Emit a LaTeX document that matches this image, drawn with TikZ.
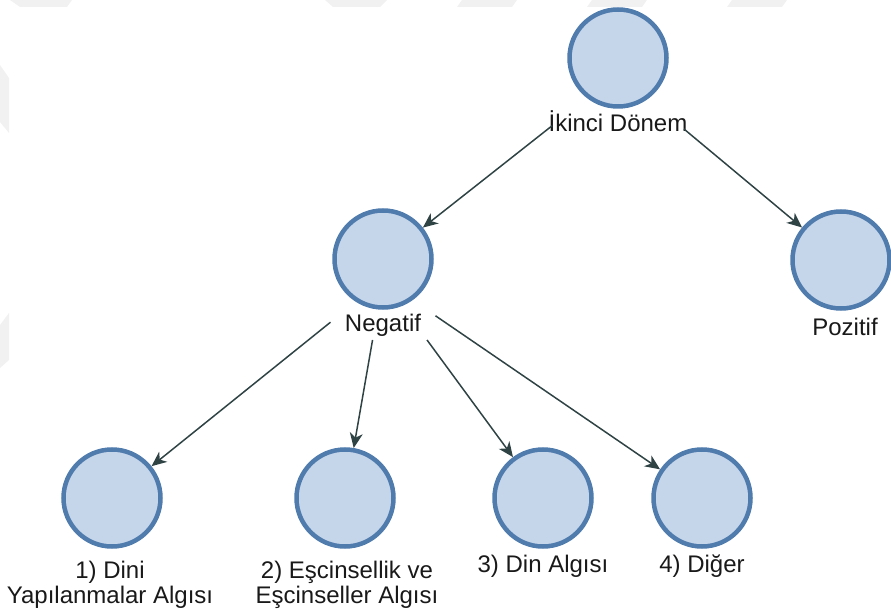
\documentclass[tikz,border=0pt]{standalone}
\usepackage{fontspec}
\setmainfont{Liberation Sans}
\usetikzlibrary{arrows.meta}
\definecolor{cfill}{HTML}{C6D6EA}
\definecolor{cedge}{HTML}{4F7BAD}
\definecolor{carrow}{HTML}{2F4345}
\definecolor{wm}{HTML}{F1F1F1}
\begin{document}
\begin{tikzpicture}[x=1pt,y=-1pt,
  circ/.style={circle, draw=cedge, fill=cfill, line width=4.5pt, minimum size=97pt, inner sep=0pt},
  lbl/.style={font=\fontsize{24}{25}\selectfont, text=black!90, inner sep=0pt, align=center},
  hub/.style={rectangle, inner sep=0pt, outer sep=0pt},
  arr/.style={draw=carrow, line width=1.5pt, -{Stealth[length=15pt,width=13pt,inset=4.5pt]}}]
\useasboundingbox (0,0) rectangle (891,609);
% faint watermark shapes
\fill[wm] (10,0) -- (72,0) -- (67,7) -- (20,7) -- cycle;
\fill[wm] (325,0) -- (387,0) -- (380,7) -- (333,7) -- cycle;
\fill[wm] (462,0) -- (517,0) -- (512,7) -- (457,7) -- cycle;
\fill[wm] (592,0) -- (647,0) -- (642,7) -- (587,7) -- cycle;
\fill[wm] (732,0) -- (787,0) -- (782,7) -- (727,7) -- cycle;
\fill[wm] (0,65) -- (9,78) -- (9,133) -- (0,122) -- cycle;
\fill[wm] (0,325) -- (9,313) -- (9,360) -- (0,368) -- cycle;
% nodes
\node[circ] (c0) at (618,58) {};
\node[lbl, anchor=base] (t0) at (618,132) {İkinci Dönem};
\node[hub, minimum width=132pt, minimum height=120pt] (h0) at (618,74) {};
\node[circ] (c1) at (383,259) {};
\node[lbl, anchor=base] (t1) at (383,331) {Negatif};
\node[hub, minimum width=105pt, minimum height=120pt] (h1) at (383,280) {};
\node[circ] (c2) at (841,260) {};
\node[lbl, anchor=base] (t2) at (845,335) {Pozitif};
\node[circ] (c3) at (112,498) {};
\node[lbl, anchor=north] (t3) at (110,561) {1) Dini\\Yapılanmalar Algısı};
\node[circ] (c4) at (345,498) {};
\node[lbl, anchor=north] (t4) at (347,561) {2) Eşcinsellik ve\\Eşcinseller Algısı};
\node[circ] (c5) at (543,498) {};
\node[lbl, anchor=base] (t5) at (543,572) {3) Din Algısı};
\node[circ] (c6) at (702,498) {};
\node[lbl, anchor=base] (t6) at (702,572) {4) Diğer};
% connectors
\draw[arr] (h0) -- (c1);
\draw[arr] (h0) -- (c2);
\draw[arr] (h1) -- (c3);
\draw[arr] (h1) -- (c4);
\draw[arr] (h1) -- (c5);
\draw[arr] (h1) -- (c6);
\end{tikzpicture}
\end{document}
